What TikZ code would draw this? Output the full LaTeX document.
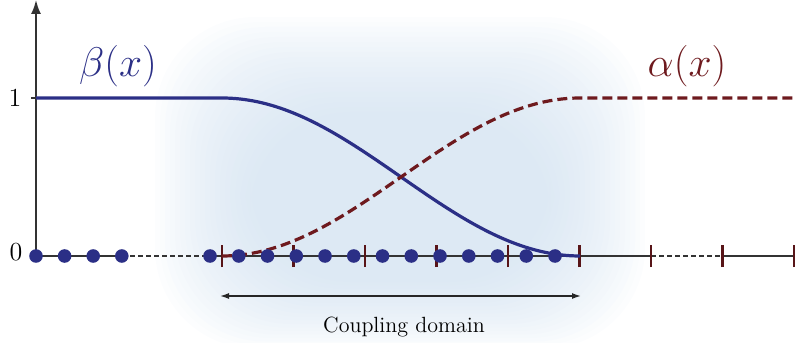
\documentclass[tikz,border=0pt]{standalone}
\usepackage{amsmath}
\usetikzlibrary{arrows.meta, positioning}
\definecolor{betacolor}{HTML}{2B2F86}
\definecolor{alphacolor}{HTML}{6E1A1E}
\definecolor{glowcolor}{HTML}{CBDDEE}

\begin{document}
\begin{tikzpicture}[x=0.5pt, y=0.5pt,
    axis/.style={draw=black!80, line width=0.9pt},
    gapline/.style={draw=black!80, line width=0.9pt, dash pattern=on 2.5pt off 1.5pt},
    betacurve/.style={draw=betacolor, line width=1.6pt},
    alphacurve/.style={draw=alphacolor, line width=1.6pt, dash pattern=on 5pt off 2.5pt},
    site/.style={circle, fill=betacolor, inner sep=0pt, minimum size=6.8pt},
    gridtick/.style={draw=alphacolor!80!black, line width=1.1pt},
    span/.style={{Latex[length=4.5pt,width=3pt]}-{Latex[length=4.5pt,width=3pt]}, black!85, line width=0.7pt},
    funclabel/.style={font=\huge, text=#1},
    glowlayer/.style={fill=glowcolor, fill opacity=0.05, draw=none, rounded corners=50pt}
]
\useasboundingbox (0,0) rectangle (795,342);

% Soft glow behind the coupling domain
\foreach \k in {0,...,19}
  \fill[glowlayer] (250-5*\k,60-3.5*\k) rectangle (550+5*\k,230+5*\k);

% Axes
\coordinate (origin) at (36,86);
\coordinate (ytop) at (36,342);
\draw[axis, -{Latex[length=7pt,width=5pt]}] (origin) -- (ytop);
\draw[axis] (36,244) -- ++(-5,0);
\node[font=\fontsize{13}{15}\selectfont] (one) at (15,244) {1};
\node[font=\fontsize{13}{15}\selectfont] (zero) at (16,90) {0};

% Grid line, with gaps
\coordinate (lend) at (122,86);
\coordinate (rstart) at (210,86);
\coordinate (rend) at (651,86);
\coordinate (fstart) at (723,86);
\coordinate (fend) at (795,86);
\draw[axis] (origin) -- (lend);
\draw[gapline] (lend) -- (rstart);
\draw[axis] (rstart) -- (rend);
\draw[gapline] (rend) -- (fstart);
\draw[axis] (fstart) -- (fend);

% Coarse grid ticks
\foreach \i in {0,...,8}
  \draw[gridtick] (222+71.5*\i,75) -- ++(0,22);

% Blending functions
\draw[betacurve] (36,244) -- plot[domain=222:580, samples=80] (\x, {86+79*(1+cos((\x-222)/358*180))});
\draw[alphacurve] plot[domain=222:580, samples=80] (\x, {86+79*(1-cos((\x-222)/358*180))}) -- (795,244);

% Fine grid sites
\foreach \i in {0,...,3}
  \node[site] (l\i) at (36+28.6*\i,86) {};
\foreach \i in {0,...,12}
  \node[site] (d\i) at (210+28.75*\i,86) {};

% Labels
\node[funclabel=betacolor] (betalabel) at (118,276) {$\beta(x)$};
\node[funclabel=alphacolor] (alphalabel) at (687,276) {$\alpha(x)$};

% Coupling domain
\coordinate (cleft) at (220,46);
\coordinate (cright) at (581,46);
\draw[span] (cleft) -- (cright);
\node[font=\fontsize{11}{13}\selectfont] (coupling) at (404,15) {Coupling domain};
\end{tikzpicture}
\end{document}
